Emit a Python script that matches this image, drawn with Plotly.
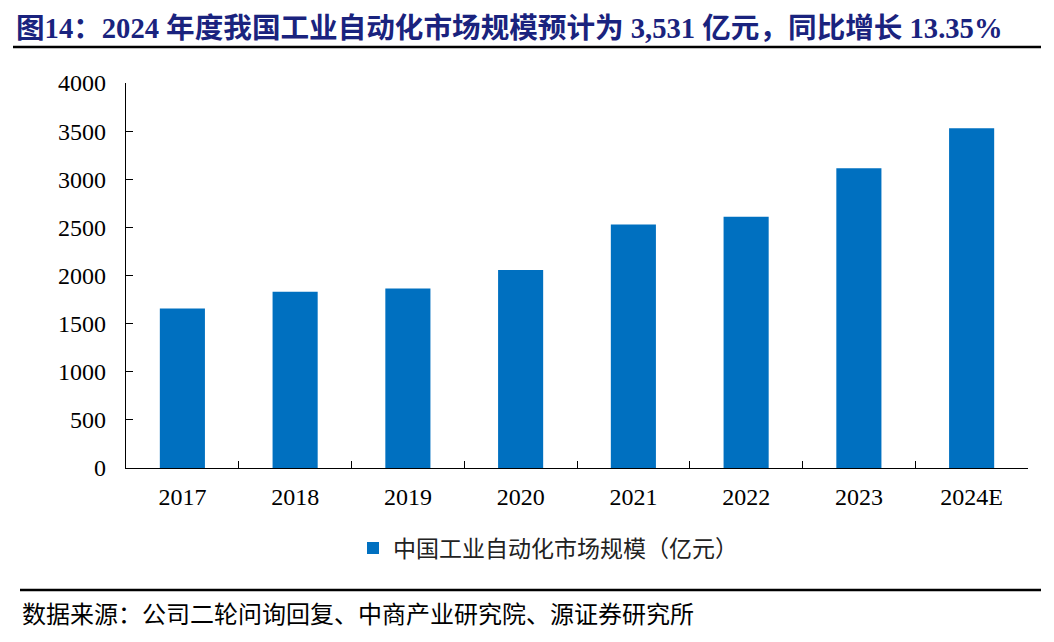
import plotly.graph_objects as go

years = ["2017", "2018", "2019", "2020", "2021", "2022", "2023", "2024E"]
market_size = [1658, 1830, 1865, 2057, 2530, 2611, 3115, 3531]
series_name = "中国工业自动化市场规模（亿元）"
title_text = "图14：2024 年度我国工业自动化市场规模预计为 3,531 亿元，同比增长 13.35%"
source_text = "数据来源：公司二轮问询回复、中商产业研究院、源证券研究所"

OFF = 8  # page body margin
W, H = 1054 - OFF, 642 - OFF
L, R, T, B = 126 - OFF, 26, 83 - OFF, 174
pw, ph = W - L - R, H - T - B

def px(x):
    return (x - OFF - L) / pw

def py(y):
    return (H - B - (y - OFF)) / ph

serif = "Liberation Serif, Times New Roman, Noto Sans CJK SC, serif"
cjk = "Noto Sans CJK SC, sans-serif"

fig = go.Figure()
fig.add_trace(go.Bar(x=years, y=market_size, name=series_name,
                     marker=dict(color="#0070C0", line=dict(width=0)),
                     showlegend=True))

fig.update_layout(
    width=W, height=H,
    margin=dict(l=L, r=R, t=T, b=B, autoexpand=False),
    paper_bgcolor="white", plot_bgcolor="white",
    bargap=0.6,
    showlegend=True,
    legend=dict(orientation="h", x=px(548), xanchor="center", y=py(548), yanchor="middle",
                font=dict(family=cjk, size=23, color="#222"), itemwidth=30),
    xaxis=dict(type="category", showline=True, linecolor="black", linewidth=1.3,
               ticks="inside", tickson="boundaries", ticklen=7, tickcolor="black",
               tickfont=dict(family=serif, size=24, color="black"),
               ticklabelstandoff=7,
               showgrid=False, zeroline=False),
    yaxis=dict(range=[0, 4000], dtick=500, showline=True, linecolor="black", linewidth=1.3,
               ticks="inside", ticklen=7, tickcolor="black",
               tickfont=dict(family=serif, size=24, color="black"),
               ticklabelstandoff=14,
               showgrid=False, zeroline=False),
    shapes=[
        dict(type="line", xref="paper", yref="paper", x0=px(13), x1=px(1041),
             y0=py(47), y1=py(47), line=dict(color="black", width=2.5)),
        dict(type="line", xref="paper", yref="paper", x0=px(20), x1=px(1041),
             y0=py(590), y1=py(590), line=dict(color="black", width=2.5)),
    ],
    annotations=[
        dict(text="<b>" + title_text + "</b>", xref="paper", yref="paper",
             x=px(14), y=py(28), xanchor="left", yanchor="middle", showarrow=False,
             font=dict(family=serif, size=28.6, color="#1A237E")),
        dict(text=source_text, xref="paper", yref="paper",
             x=px(20), y=py(612), xanchor="left", yanchor="middle", showarrow=False,
             font=dict(family=cjk, size=24, color="black")),
    ],
)

fig.write_html("out.html")
